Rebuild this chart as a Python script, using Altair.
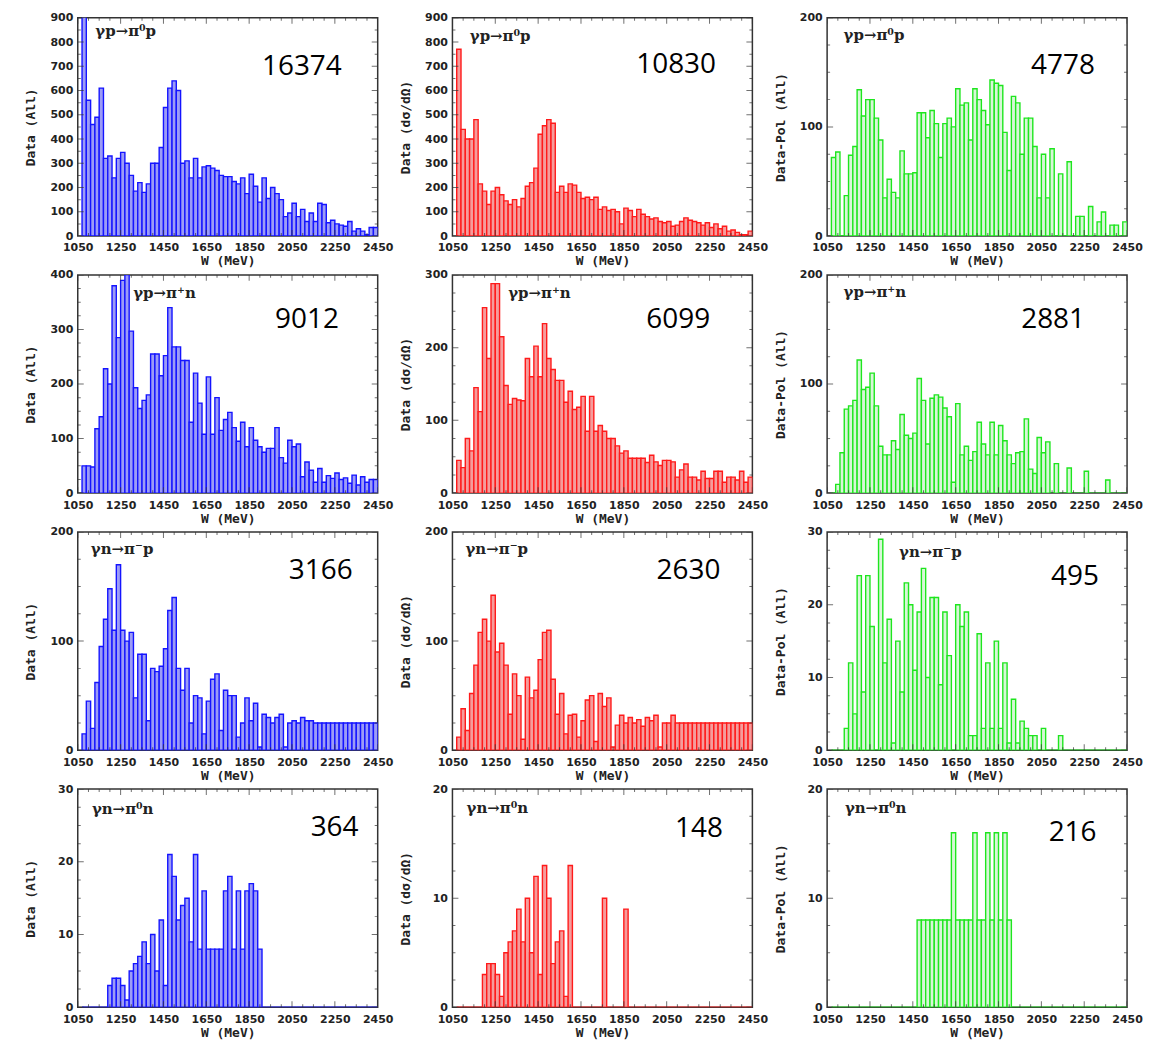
import altair as alt
import numpy as np
import pandas as pd

# ---------------- data ----------------
W_FIRST_BIN = 1070
BIN_WIDTH = 20
W_DOMAIN = [1050, 2450]
W_LABELS = [1050, 1250, 1450, 1650, 1850, 2050, 2250, 2450]

P1 = [950, 560, 460, 490, 610, 320, 330, 240, 320, 345,
      300, 250, 185, 220, 180, 215, 300, 300, 365, 530,
      610, 640, 600, 300, 310, 240, 320, 240, 285, 290,
      280, 270, 250, 245, 245, 225, 215, 240, 175, 255,
      205, 140, 240, 155, 200, 175, 150, 80, 95, 135,
      80, 110, 60, 95, 60, 135, 130, 55, 65, 50,
      45, 40, 60, 20, 30, 20, 5, 35, 35]
P2 = [770, 440, 400, 400, 480, 215, 185, 130, 185, 200,
      170, 145, 130, 150, 120, 155, 205, 220, 280, 420,
      455, 480, 465, 180, 205, 180, 215, 210, 180, 155,
      160, 150, 160, 110, 120, 105, 110, 100, 50, 115,
      105, 80, 110, 90, 80, 70, 75, 60, 55, 60,
      40, 45, 60, 75, 65, 60, 55, 45, 55, 35,
      50, 30, 40, 20, 25, 15, 5, 5, 20]
P3 = [72, 77, 0, 37, 74, 82, 134, 110, 125, 125,
      108, 88, 35, 52, 40, 35, 78, 57, 57, 58,
      113, 113, 90, 115, 103, 72, 103, 108, 100, 135,
      120, 122, 88, 135, 125, 115, 102, 143, 140, 138,
      95, 60, 128, 122, 75, 108, 108, 82, 35, 75,
      35, 80, 0, 57, 0, 68, 0, 18, 18, 0,
      27, 0, 13, 22, 0, 10, 10, 0, 13]
P4 = [50, 50, 48, 118, 140, 228, 200, 380, 285, 390,
      400, 297, 193, 155, 170, 180, 255, 255, 215, 252,
      340, 268, 268, 243, 243, 130, 220, 165, 108, 213,
      108, 175, 115, 135, 148, 120, 95, 130, 85, 120,
      97, 85, 75, 82, 82, 120, 65, 55, 97, 85,
      90, 30, 57, 42, 20, 45, 20, 32, 27, 37,
      25, 28, 18, 33, 15, 30, 20, 25, 25]
P5 = [45, 35, 75, 58, 145, 112, 255, 185, 288, 288,
      215, 148, 122, 130, 128, 127, 185, 160, 202, 160,
      233, 185, 170, 155, 155, 125, 140, 115, 118, 133,
      85, 133, 85, 93, 85, 75, 75, 65, 55, 58,
      48, 48, 48, 48, 42, 52, 43, 38, 45, 45,
      43, 22, 32, 40, 22, 22, 18, 30, 20, 20,
      30, 30, 15, 22, 22, 18, 30, 15, 22]
P6 = [0, 8, 37, 77, 80, 85, 122, 95, 97, 110,
      80, 43, 35, 35, 48, 40, 72, 53, 50, 55,
      105, 85, 45, 87, 90, 88, 78, 70, 10, 82,
      35, 43, 30, 38, 65, 45, 35, 65, 35, 62,
      48, 35, 27, 37, 38, 68, 22, 18, 51, 37,
      47, 0, 27, 0, 0, 23, 0, 0, 0, 20,
      0, 0, 0, 0, 12, 0, 0, 0, 0]
P7 = [15, 45, 20, 62, 95, 120, 148, 110, 170, 110,
      100, 108, 48, 88, 88, 27, 75, 72, 77, 93,
      128, 140, 75, 55, 75, 25, 50, 48, 15, 45,
      65, 70, 18, 55, 50, 50, 12, 25, 48, 27,
      43, 3, 33, 30, 25, 30, 33, 3, 25, 27,
      25, 30, 27, 27, 25, 25, 25, 25, 25, 25,
      25, 25, 25, 25, 25, 25, 25, 25, 25]
P8 = [12, 38, 18, 52, 78, 108, 120, 100, 142, 90,
      98, 78, 33, 70, 50, 10, 67, 48, 55, 83,
      108, 110, 65, 33, 52, 15, 32, 33, 12, 27,
      46, 50, 8, 52, 40, 48, 3, 23, 32, 25,
      30, 25, 28, 22, 30, 27, 32, 3, 25, 25,
      32, 25, 25, 25, 25, 25, 25, 25, 25, 25,
      25, 25, 25, 25, 25, 25, 25, 25, 25]
P9 = [0, 0, 0, 3, 12, 5, 24, 8, 24, 17,
      0, 29, 12, 18, 1, 15, 8, 23, 20, 11,
      19, 25, 10, 21, 21, 9, 19, 13, 0, 20,
      17, 19, 2, 2, 16, 3, 12, 3, 15, 3,
      12, 1, 7, 1, 4, 3, 2, 2, 0, 3,
      0, 0, 0, 2, 0, 0, 0, 0, 0, 0,
      0, 0, 0, 0, 0, 0, 0, 0, 0]
P10 = [0, 0, 0, 0, 0, 0, 3, 4, 4, 3,
       1, 5, 6, 7, 9, 6, 10, 5, 12, 3,
       21, 18, 12, 14, 15, 9, 21, 8, 16, 8,
       8, 8, 8, 16, 18, 8, 16, 8, 16, 17,
       16, 8, 0, 0, 0, 0, 0, 0, 0, 0,
       0, 0, 0, 0, 0, 0, 0, 0, 0, 0,
       0, 0, 0, 0, 0, 0, 0, 0, 0]
P11 = [0, 0, 0, 0, 0, 0, 3, 4, 4, 3,
       1, 5, 6, 7, 9, 6, 10, 5, 12, 3,
       13, 10, 4, 6, 7, 1, 13, 0, 0, 0,
       0, 0, 0, 0, 10, 0, 0, 0, 0, 9,
       0, 0, 0, 0, 0, 0, 0, 0, 0, 0,
       0, 0, 0, 0, 0, 0, 0, 0, 0, 0,
       0, 0, 0, 0, 0, 0, 0, 0, 0]
P12 = [0, 0, 0, 0, 0, 0, 0, 0, 0, 0,
       0, 0, 0, 0, 0, 0, 0, 0, 0, 0,
       8, 8, 8, 8, 8, 8, 8, 8, 16, 8,
       8, 8, 8, 16, 8, 8, 16, 8, 16, 8,
       16, 8, 0, 0, 0, 0, 0, 0, 0, 0,
       0, 0, 0, 0, 0, 0, 0, 0, 0, 0,
       0, 0, 0, 0, 0, 0, 0, 0, 0]

SERIES = [P1, P2, P3, P4, P5, P6, P7, P8, P9, P10, P11, P12]
REACTIONS = ["γp→π⁰p", "γp→π⁰p", "γp→π⁰p",
             "γp→π⁺n", "γp→π⁺n", "γp→π⁺n",
             "γn→π⁻p", "γn→π⁻p", "γn→π⁻p",
             "γn→π⁰n", "γn→π⁰n", "γn→π⁰n"]
COUNTS = ["16374", "10830", "4778", "9012", "6099", "2881",
          "3166", "2630", "495", "364", "148", "216"]
Y_TITLES = ["Data (All)", "Data (dσ/dΩ)", "Data-Pol (All)"]
Y_MAX = [900, 900, 200, 400, 300, 200, 200, 200, 30, 30, 20, 20]
Y_STEP = [100, 100, 100, 100, 100, 100, 100, 100, 10, 10, 10, 10]
Y_MINOR = [50, 50, 25, 25, 25, 25, 25, 25, 2.5, 2.5, 2.5, 2.5]
COLOR_KEYS = ["blue", "red", "green"]

# ---------------- style ----------------
COLORS = {"blue": ("#1414ff", "#9c9cf6"),
          "red": ("#ff1a1a", "#f59c9c"),
          "green": ("#1ee61e", "#d8f6d8")}
LABEL_POS = [(1132, 844), (1131, 823), (1127, 184),
             (1309, 367), (1310, 275), (1127, 184),
             (1111, 184), (1111, 184), (1386, 27.2),
             (1116, 27.3), (1116, 18.3), (1133, 18.3)]
COUNT_POS = [(1910, 695), (1908, 705), (2002, 156),
             (1971, 317), (1955, 238), (1956, 159),
             (2035, 164), (2003, 164), (2095, 23.8),
             (2137, 24.6), (2089, 16.3), (2084, 16.0)]
PW, PH = 301, 219


def make_panel(i):
    vals = SERIES[i]
    stroke, fill = COLORS[COLOR_KEYS[i % 3]]
    ymax, ystep, yminor = Y_MAX[i], Y_STEP[i], Y_MINOR[i]
    n = len(vals)
    lo = [W_FIRST_BIN + BIN_WIDTH * k for k in range(n)]
    df = pd.DataFrame({"lo": lo, "hi": [v + BIN_WIDTH for v in lo],
                       "n": vals, "base": [0] * n})
    xs = alt.Scale(domain=W_DOMAIN, nice=False, zero=False)
    ys = alt.Scale(domain=[0, ymax], nice=False, zero=True)
    xaxis = alt.Axis(values=W_LABELS, title="W (MeV)", format="d")
    yaxis = alt.Axis(values=list(range(0, ymax + 1, ystep)), title=Y_TITLES[i % 3], format="d")

    bars = alt.Chart(df).mark_rect(stroke=stroke, strokeWidth=1.4, fill=fill, clip=True).encode(
        x=alt.X("lo:Q", scale=xs, axis=xaxis),
        x2=alt.X2("hi"),
        y=alt.Y("n:Q", scale=ys, axis=yaxis),
        y2=alt.Y2("base"),
    )

    xt_vals = list(range(1050, 2451, 50))
    xt = pd.DataFrame({"t": xt_vals, "s": [12 if (v - 1050) % 200 == 0 else 6 for v in xt_vals]})
    yt_vals = list(np.arange(0, ymax + 0.001, yminor))
    yt = pd.DataFrame({"t": yt_vals,
                       "s": [12 if abs(v / ystep - round(v / ystep)) < 1e-6 else 6 for v in yt_vals]})
    tk = dict(color="#333333", thickness=1, clip=True)
    top = alt.Chart(xt).mark_tick(orient="vertical", **tk).encode(
        x=alt.X("t:Q", scale=xs, axis=xaxis), y=alt.value(0),
        size=alt.Size("s:Q", scale=None, legend=None))
    bottom = alt.Chart(xt).mark_tick(orient="vertical", **tk).encode(
        x=alt.X("t:Q", scale=xs, axis=xaxis), y=alt.value(PH),
        size=alt.Size("s:Q", scale=None, legend=None))
    left = alt.Chart(yt).mark_tick(orient="horizontal", **tk).encode(
        y=alt.Y("t:Q", scale=ys, axis=yaxis), x=alt.value(0),
        size=alt.Size("s:Q", scale=None, legend=None))
    right = alt.Chart(yt).mark_tick(orient="horizontal", **tk).encode(
        y=alt.Y("t:Q", scale=ys, axis=yaxis), x=alt.value(PW),
        size=alt.Size("s:Q", scale=None, legend=None))

    lx, ly = LABEL_POS[i]
    lab = alt.Chart(pd.DataFrame({"x": [lx], "y": [ly], "t": [REACTIONS[i]]})).mark_text(
        align="left", baseline="middle", font="DejaVu Serif", fontWeight="bold",
        fontSize=15, color="#222222").encode(
        x=alt.X("x:Q", scale=xs, axis=xaxis), y=alt.Y("y:Q", scale=ys, axis=yaxis), text="t:N")
    cx, cy = COUNT_POS[i]
    cnt = alt.Chart(pd.DataFrame({"x": [cx], "y": [cy], "t": [COUNTS[i]]})).mark_text(
        align="left", baseline="middle", font="Open Sans", fontSize=28,
        color="#000000").encode(
        x=alt.X("x:Q", scale=xs, axis=xaxis), y=alt.Y("y:Q", scale=ys, axis=yaxis), text="t:N")

    return alt.layer(bars, top, bottom, left, right, lab, cnt).properties(width=PW, height=PH)


panels = [make_panel(i) for i in range(12)]

chart = alt.concat(*panels, columns=3, spacing={"row": 39, "column": 75}, bounds="flush").properties(
    padding={"left": 16, "top": 1, "right": 1, "bottom": 2}
).configure_view(
    stroke="#333333", strokeWidth=1.5
).configure_axis(
    domain=False, grid=False, ticks=False
).configure_axisX(
    labelFont="DejaVu Sans", labelFontWeight="bold", labelFontSize=11, labelColor="#222222",
    labelPadding=6, labelFlush=False, labelOverlap=False,
    titleFont="DejaVu Sans Mono", titleFontWeight="bold", titleFontSize=13, titleColor="#222222",
    titlePadding=2
).configure_axisY(
    labelFont="DejaVu Sans", labelFontWeight="bold", labelFontSize=11, labelColor="#222222",
    labelPadding=5, minExtent=30, maxExtent=30, labelOverlap=False,
    titleFont="DejaVu Sans Mono", titleFontWeight="bold", titleFontSize=13, titleColor="#222222",
    titlePadding=10
)

chart.save("out.html", embed_options={"renderer": "svg", "actions": False})
